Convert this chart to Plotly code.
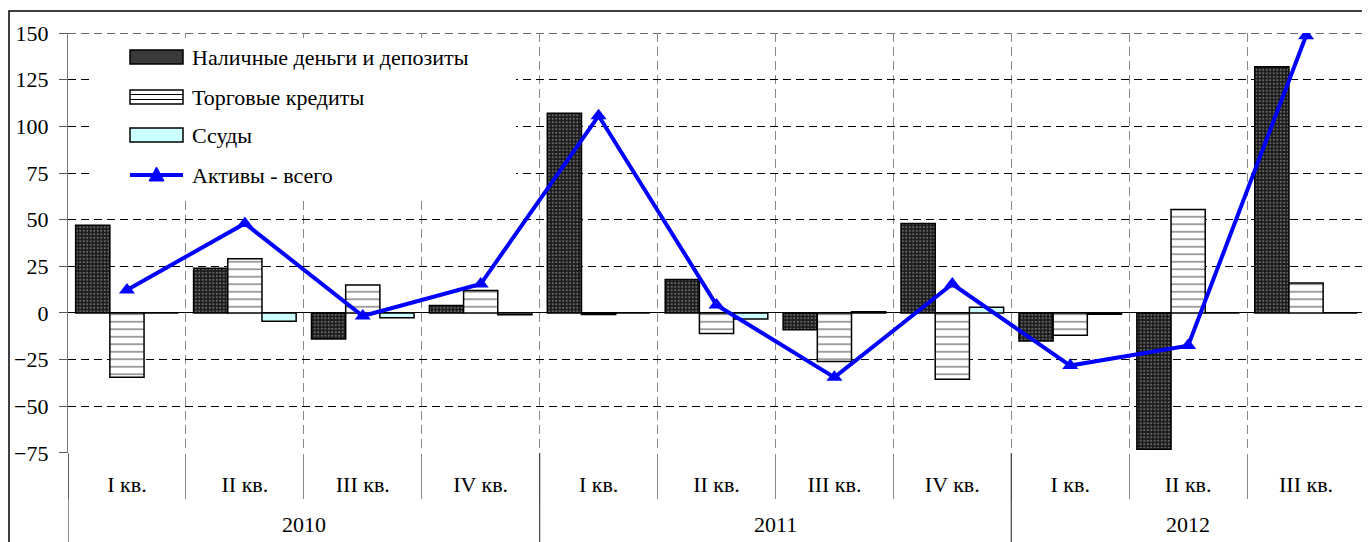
import plotly.graph_objects as go

years = ["2010"] * 4 + ["2011"] * 4 + ["2012"] * 3
quarters = ["I кв.", "II кв.", "III кв.", "IV кв.",
            "I кв.", "II кв.", "III кв.", "IV кв.",
            "I кв.", "II кв.", "III кв."]

cash = [47, 24, -14, 4, 107, 18, -9, 48, -15, -73, 132]
trade = [-34.5, 29, 15, 12, -0.8, -11, -26, -35.5, -12, 55.5, 16]
loans = [0, -4.5, -2.5, -1, 0, -3.2, 0.6, 3, -0.7, 0, 0]
total = [12.3, 48, -1.6, 15.5, 105.7, 4.3, -34.5, 15.5, -28.2, -17.5, 148.6]

names = ["Наличные деньги и депозиты", "Торговые кредиты", "Ссуды", "Активы - всего"]

Y_MIN, Y_MAX = -75, 150

FONT = "Liberation Serif"
FS = 22
OFF = 8  # page body margin
W, H = 1370 - OFF, 542 - OFF
# plot area in screen pixels: x 68..1365, y 33..453
L, R, T, B = 68 - OFF, 5, 33 - OFF, 542 - 453
PW, PH = W - L - R, H - T - B


def px(x):
    return (x - OFF - L) / PW


def py(y):
    return (H - B - (y - OFF)) / PH


cats = [f"{y} {q}" for y, q in zip(years, quarters)]

fig = go.Figure()
fig.add_trace(go.Bar(
    x=cats, y=cash, name=names[0],
    marker=dict(color="#202020", line=dict(color="black", width=1.5),
                pattern=dict(shape=".", fgcolor="#b5b5b5", bgcolor="#1a1a1a",
                             size=3.5, solidity=0.3)),
    showlegend=False))
fig.add_trace(go.Bar(
    x=cats, y=trade, name=names[1],
    marker=dict(color="white", line=dict(color="black", width=1.5),
                pattern=dict(shape="-", fgcolor="#202020", bgcolor="white",
                             size=7.5, solidity=0.22)),
    showlegend=False))
fig.add_trace(go.Bar(
    x=cats, y=loans, name=names[2],
    marker=dict(color="#ccffff", line=dict(color="black", width=1.5)),
    showlegend=False))
fig.add_trace(go.Scatter(
    x=cats, y=total, name=names[3], mode="lines+markers",
    line=dict(color="#0000ff", width=4),
    marker=dict(symbol="triangle-up", size=14, color="#0000ff"),
    showlegend=False))

shapes = []
annotations = []
# top gridline at the range edge
shapes.append(dict(type="line", xref="paper", yref="y", x0=0, x1=1, y0=Y_MAX, y1=Y_MAX,
                   line=dict(color="black", width=1, dash="8px,5px"), layer="below"))
# outer border
shapes.append(dict(type="rect", xref="paper", yref="paper",
                   x0=px(9), x1=px(1365), y0=py(560), y1=py(11),
                   line=dict(color="black", width=1.5), layer="above"))
# year groups: labels and dividers
year_list = []
for y in years:
    if y not in year_list:
        year_list.append(y)
bounds = set()
for yr in year_list:
    idx = [i for i, v in enumerate(years) if v == yr]
    annotations.append(dict(xref="x", yref="paper", x=(idx[0] + idx[-1]) / 2, y=py(524),
                            xanchor="center", yanchor="middle", text=yr, showarrow=False,
                            font=dict(family=FONT, size=FS, color="black")))
    bounds.add(idx[0] - 0.5)
    bounds.add(idx[-1] + 0.5)
for b in sorted(bounds):
    shapes.append(dict(type="line", xref="x", yref="paper", x0=b, x1=b,
                       y0=py(453), y1=py(560),
                       line=dict(color="#444444", width=1.2), layer="above"))

# legend background
shapes.append(dict(type="rect", xref="paper", yref="paper",
                   x0=px(92), x1=px(516), y0=py(196), y1=py(38),
                   fillcolor="white", line=dict(width=0), layer="above"))
rows = [57, 97, 135, 175]
sx0, sx1, sh = 130, 183, 7
shapes.append(dict(type="rect", xref="paper", yref="paper",
                   x0=px(sx0), x1=px(sx1), y0=py(rows[0] + sh), y1=py(rows[0] - sh),
                   fillcolor="#3a3a3a", line=dict(color="black", width=1.5), layer="above"))
shapes.append(dict(type="rect", xref="paper", yref="paper",
                   x0=px(sx0), x1=px(sx1), y0=py(rows[1] + sh), y1=py(rows[1] - sh),
                   fillcolor="white", line=dict(color="black", width=1.5), layer="above"))
for dy in (-2.5, 2.5):
    shapes.append(dict(type="line", xref="paper", yref="paper",
                       x0=px(sx0), x1=px(sx1), y0=py(rows[1] + dy), y1=py(rows[1] + dy),
                       line=dict(color="black", width=1.2), layer="above"))
shapes.append(dict(type="rect", xref="paper", yref="paper",
                   x0=px(sx0), x1=px(sx1), y0=py(rows[2] + sh), y1=py(rows[2] - sh),
                   fillcolor="#ccffff", line=dict(color="black", width=1.5), layer="above"))
shapes.append(dict(type="line", xref="paper", yref="paper",
                   x0=px(sx0), x1=px(sx1), y0=py(rows[3]), y1=py(rows[3]),
                   line=dict(color="#0000ff", width=4), layer="above"))
cx = (sx0 + sx1) / 2
tri = "M {:.5f} {:.5f} L {:.5f} {:.5f} L {:.5f} {:.5f} Z".format(
    px(cx - 7.5), py(rows[3] + 6), px(cx + 7.5), py(rows[3] + 6), px(cx), py(rows[3] - 8))
shapes.append(dict(type="path", xref="paper", yref="paper", path=tri,
                   fillcolor="#0000ff", line=dict(color="#0000ff", width=1), layer="above"))
for r, n in zip(rows, names):
    annotations.append(dict(xref="paper", yref="paper", x=px(190), y=py(r),
                            xanchor="left", yanchor="middle", text=n, showarrow=False,
                            font=dict(family=FONT, size=FS, color="black")))

fig.update_layout(
    width=W, height=H,
    margin=dict(l=L, r=R, t=T, b=B, pad=0, autoexpand=False),
    plot_bgcolor="white", paper_bgcolor="white",
    barmode="group", bargap=0.13, bargroupgap=0,
    font=dict(family=FONT, size=FS, color="black"),
    shapes=shapes, annotations=annotations,
    showlegend=False,
)
fig.update_yaxes(
    range=[Y_MIN - 0.05, Y_MAX + 0.05], dtick=25, tick0=0, automargin=False,
    showgrid=True, gridcolor="black", gridwidth=1, griddash="8px,5px",
    zeroline=True, zerolinecolor="black", zerolinewidth=1.2,
    showline=True, linecolor="#777777", linewidth=1.2,
    ticks="outside", ticklen=8, tickcolor="#555555",
    ticklabelstandoff=6,
    tickfont=dict(family=FONT, size=FS, color="black"),
)
fig.update_xaxes(
    type="category", range=[-0.5, len(cats) - 0.5], automargin=False,
    tickmode="array", tickvals=cats, ticktext=quarters,
    tickson="boundaries", ticks="outside", ticklen=45, tickcolor="#888888", tickwidth=1.2,
    showgrid=True, gridcolor="#888888", gridwidth=1, griddash="9px,5px",
    showline=False, zeroline=False,
    ticklabelstandoff=16,
    tickfont=dict(family=FONT, size=FS, color="black"),
)

fig.write_html("out.html")
